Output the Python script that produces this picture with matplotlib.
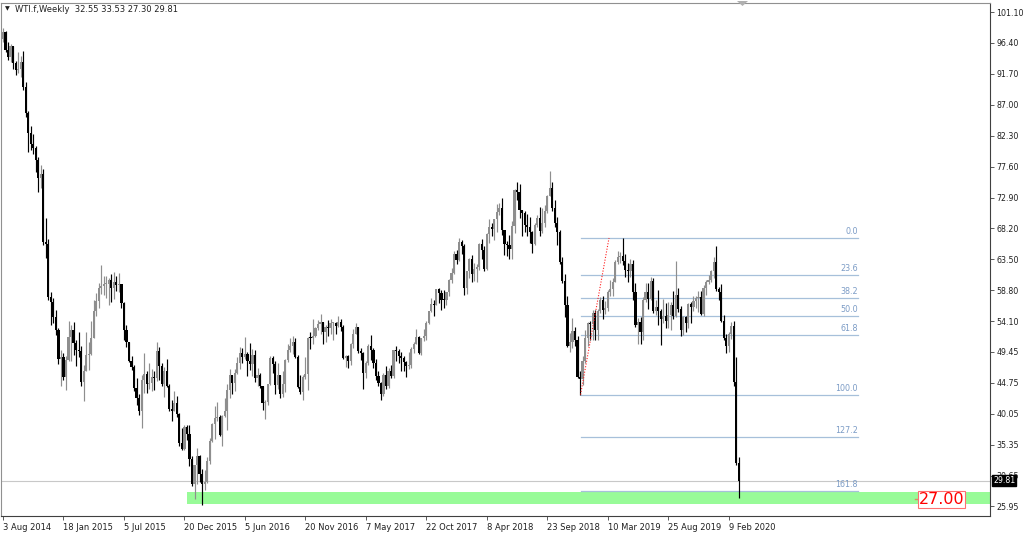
import matplotlib
matplotlib.use("Agg")
import matplotlib.pyplot as plt
from matplotlib.patches import Polygon

# ---------------- data (weekly O, H, L, C) ----------------
bars_2014 = [
    (97.0, 98.7, 96.6, 98.0), (98.0, 98.2, 95.0, 95.4), (95.4, 96.5, 93.8, 94.3), (94.3, 96.2, 93.5, 95.9),
    (95.9, 96.0, 92.5, 93.3), (93.3, 93.6, 91.5, 92.3), (92.3, 95.0, 91.9, 92.4), (92.4, 94.4, 91.2, 93.5),
    (93.5, 95.2, 89.2, 89.7), (89.7, 90.5, 85.1, 85.8), (85.8, 86.0, 79.8, 82.7), (82.7, 83.8, 80.1, 81.0),
    (81.0, 82.5, 79.5, 80.5), (80.5, 80.8, 76.8, 78.6), (78.6, 79.0, 73.8, 75.8), (75.8, 77.8, 74.3, 76.5),
    (76.5, 77.2, 65.7, 66.2), (66.2, 69.8, 63.7, 65.8), (65.8, 66.6, 57.3, 57.8), (57.8, 58.5, 53.6, 57.1),
    (57.1, 57.6, 53.8, 54.7), (54.7, 55.8, 52.0, 52.7),
]
bars_2015 = [
    (52.7, 53.1, 47.6, 48.4), (48.4, 49.8, 44.2, 48.7), (48.7, 49.2, 45.2, 45.6), (45.6, 48.8, 43.6, 48.2),
    (48.2, 54.2, 48.0, 51.7), (51.7, 53.5, 48.0, 52.8), (52.8, 54.0, 48.9, 50.8), (50.8, 51.3, 47.3, 49.8),
    (49.8, 52.5, 48.6, 49.6), (49.6, 50.4, 44.3, 44.8), (44.8, 47.4, 42.0, 46.6), (46.6, 52.5, 46.5, 48.9),
    (48.9, 51.0, 46.7, 49.1), (49.1, 54.2, 48.9, 51.6), (51.6, 57.4, 51.6, 55.7), (55.7, 58.4, 54.9, 57.2),
    (57.2, 59.9, 56.1, 59.2), (59.2, 62.6, 58.3, 59.4), (59.4, 61.0, 58.1, 59.7), (59.7, 61.0, 57.6, 59.8),
    (59.8, 60.6, 56.5, 60.3), (60.3, 61.3, 57.1, 59.1), (59.1, 61.6, 57.5, 60.0), (60.0, 61.0, 58.7, 59.6),
    (59.6, 61.5, 58.6, 59.7), (59.7, 59.7, 56.1, 56.9), (56.9, 57.0, 51.3, 52.7), (52.7, 53.5, 50.2, 50.9),
    (50.9, 51.0, 47.9, 48.1), (48.1, 48.8, 46.7, 47.1), (47.1, 47.4, 43.5, 43.9), (43.9, 45.5, 41.4, 42.5),
    (42.5, 43.0, 39.9, 40.5), (40.5, 45.9, 37.8, 45.2), (45.2, 49.3, 43.2, 46.1), (46.1, 46.5, 43.2, 44.6),
    (44.6, 47.7, 43.8, 44.7), (44.7, 46.8, 43.5, 45.7), (45.7, 46.5, 43.7, 45.5), (45.5, 50.9, 45.0, 49.6),
    (49.6, 50.2, 45.2, 47.3), (47.3, 47.8, 44.2, 44.6), (44.6, 47.1, 42.6, 46.6), (46.6, 48.4, 44.1, 44.3),
    (44.3, 44.6, 40.5, 40.7), (40.7, 42.2, 38.9, 40.4), (40.4, 43.5, 40.4, 41.7), (41.7, 42.8, 39.6, 40.0),
    (40.0, 40.1, 35.1, 35.6), (35.6, 37.9, 34.5, 34.7), (34.7, 38.3, 34.6, 38.1), (38.1, 38.3, 36.0, 37.0),
]
bars_2016 = [
    (37.0, 38.4, 32.1, 33.2), (33.2, 33.6, 29.1, 29.4), (29.4, 32.3, 27.1, 32.2), (32.2, 34.8, 29.3, 33.6),
    (33.6, 33.8, 29.6, 30.9), (30.9, 31.7, 26.1, 29.4), (29.4, 31.5, 28.5, 29.6), (29.6, 33.5, 29.5, 32.8),
    (32.8, 36.3, 32.4, 35.9), (35.9, 38.6, 35.8, 38.5), (38.5, 41.2, 36.2, 39.4), (39.4, 41.9, 38.9, 39.5),
    (39.5, 39.8, 36.6, 36.8), (36.8, 39.9, 35.2, 39.7), (39.7, 42.4, 39.6, 40.4), (40.4, 44.5, 37.6, 43.7),
    (43.7, 46.8, 42.4, 45.9), (45.9, 46.0, 43.0, 44.7), (44.7, 46.8, 43.5, 46.2), (46.2, 48.7, 46.1, 47.8),
    (47.8, 50.2, 46.8, 49.3), (49.3, 50.0, 47.8, 48.6), (48.6, 51.7, 48.3, 49.1), (49.1, 49.4, 45.8, 48.0),
    (48.0, 50.8, 46.7, 47.6), (47.6, 49.9, 45.8, 49.0), (49.0, 49.7, 44.9, 45.4), (45.4, 47.0, 44.2, 46.0),
    (46.0, 46.2, 43.9, 44.2), (44.2, 44.3, 40.6, 41.6), (41.6, 42.1, 39.2, 41.8), (41.8, 44.6, 41.3, 44.5),
    (44.5, 48.8, 44.4, 48.5), (48.5, 48.8, 46.3, 47.6), (47.6, 48.0, 43.0, 44.4), (44.4, 47.7, 43.8, 45.9),
    (45.9, 46.0, 42.5, 43.0), (43.0, 46.6, 42.6, 44.5), (44.5, 48.3, 43.3, 48.2), (48.2, 50.7, 47.9, 49.8),
    (49.8, 51.6, 49.4, 50.4), (50.4, 51.9, 49.1, 50.9), (50.9, 51.5, 48.5, 48.7), (48.7, 48.9, 44.0, 44.1),
    (44.1, 45.9, 43.0, 43.4), (43.4, 46.0, 42.2, 45.7), (45.7, 48.6, 45.3, 46.1), (46.1, 51.7, 43.6, 51.6),
    (51.6, 52.4, 49.9, 51.5), (51.5, 54.5, 50.6, 51.9), (51.9, 53.3, 51.7, 53.0), (53.0, 54.3, 52.7, 53.7),
]
bars_2017 = [
    (53.7, 55.2, 52.1, 54.0), (54.0, 54.0, 50.7, 52.4), (52.4, 53.5, 50.9, 53.2), (53.2, 54.3, 51.8, 53.1),
    (53.1, 54.5, 52.1, 53.8), (53.8, 54.0, 51.2, 53.9), (53.9, 54.0, 52.1, 53.4), (53.4, 54.9, 53.2, 54.0),
    (54.0, 54.5, 52.6, 53.3), (53.3, 53.6, 48.3, 48.5), (48.5, 49.0, 47.1, 48.8), (48.8, 49.0, 47.0, 48.0),
    (48.0, 50.8, 47.5, 50.6), (50.6, 52.9, 50.1, 52.2), (52.2, 53.8, 52.1, 53.2), (53.2, 53.3, 49.3, 49.6),
    (49.6, 50.0, 48.2, 49.3), (49.3, 49.4, 43.8, 46.2), (46.2, 48.0, 45.5, 47.8), (47.8, 50.6, 47.5, 50.3),
    (50.3, 52.0, 48.2, 49.8), (49.8, 50.0, 47.0, 47.7), (47.7, 48.4, 45.2, 45.8), (45.8, 46.6, 44.2, 44.7),
    (44.7, 44.8, 42.1, 43.0), (43.0, 46.3, 42.8, 46.0), (46.0, 47.3, 43.8, 44.2), (44.2, 47.0, 43.9, 46.5),
    (46.5, 47.4, 45.4, 45.8), (45.8, 49.8, 45.4, 49.7), (49.7, 50.4, 48.1, 49.6), (49.6, 49.9, 47.8, 48.8),
    (48.8, 49.4, 46.5, 48.5), (48.5, 48.8, 46.5, 47.9), (47.9, 48.1, 45.6, 47.3), (47.3, 49.4, 46.8, 47.5),
    (47.5, 50.2, 47.0, 49.9), (49.9, 51.0, 49.2, 50.7), (50.7, 52.9, 50.6, 51.7), (51.7, 51.8, 49.1, 49.3),
    (49.3, 51.6, 49.0, 51.5), (51.5, 52.9, 51.1, 51.8), (51.8, 54.2, 51.3, 53.9), (53.9, 55.7, 53.7, 55.6),
    (55.6, 57.7, 55.5, 56.7), (56.7, 57.3, 54.9, 56.6), (56.6, 59.0, 56.5, 59.0), (59.0, 59.1, 56.8, 58.4),
    (58.4, 58.8, 55.8, 57.4), (57.4, 58.9, 56.1, 57.3), (57.3, 58.6, 56.6, 58.5), (58.5, 60.5, 58.0, 60.4),
]
bars_2018 = [
    (60.4, 62.2, 59.9, 61.4), (61.4, 64.8, 61.3, 64.3), (64.3, 64.9, 62.8, 63.4), (63.4, 66.7, 63.3, 66.1),
    (66.1, 66.4, 64.3, 65.5), (65.5, 65.9, 58.1, 59.2), (59.2, 61.8, 58.2, 61.7), (61.7, 63.7, 60.7, 63.6),
    (63.6, 64.2, 60.1, 61.3), (61.3, 63.0, 60.2, 62.0), (62.0, 62.8, 60.1, 62.3), (62.3, 66.0, 61.9, 65.9),
    (65.9, 66.6, 63.6, 64.9), (64.9, 65.5, 61.8, 62.1), (62.1, 67.5, 61.9, 67.4), (67.4, 69.6, 66.0, 68.4),
    (68.4, 69.1, 67.0, 68.1), (68.1, 69.7, 66.5, 69.7), (69.7, 71.9, 67.7, 70.7), (70.7, 72.0, 70.2, 71.3),
    (71.3, 72.9, 67.2, 67.9), (67.9, 68.0, 64.2, 65.8), (65.8, 66.3, 64.0, 65.7), (65.7, 67.2, 63.6, 65.1),
    (65.1, 69.3, 63.6, 68.6), (68.6, 74.2, 67.5, 74.1), (74.1, 75.3, 72.5, 73.8), (73.8, 75.0, 69.8, 71.0),
    (71.0, 71.0, 67.0, 70.5), (70.5, 70.9, 67.6, 68.7), (68.7, 70.4, 67.0, 68.5), (68.5, 69.9, 66.0, 67.6),
    (67.6, 67.8, 64.4, 65.9), (65.9, 69.0, 65.7, 68.7), (68.7, 70.3, 68.5, 69.8), (69.8, 71.4, 67.1, 67.8),
    (67.8, 71.3, 67.5, 69.0), (69.0, 71.7, 68.5, 70.8), (70.8, 73.3, 70.6, 73.2), (73.2, 76.9, 73.1, 74.3),
    (74.3, 75.3, 70.8, 71.3), (71.3, 72.5, 68.5, 69.1), (69.1, 70.0, 65.7, 67.6), (67.6, 68.0, 62.8, 63.1),
    (63.1, 63.9, 59.9, 60.2), (60.2, 61.3, 54.8, 56.5), (56.5, 57.9, 50.2, 50.4), (50.4, 52.3, 49.4, 50.9),
    (50.9, 54.6, 50.1, 52.6), (52.6, 53.2, 50.4, 51.2), (51.2, 51.9, 45.4, 45.6), (45.6, 46.6, 42.95, 45.3),
]
bars_2019 = [
    (45.3, 48.8, 44.4, 48.0), (48.0, 52.7, 47.8, 51.6), (51.6, 54.0, 50.3, 53.8), (53.8, 54.1, 51.3, 53.7),
    (53.7, 55.8, 51.3, 55.3), (55.3, 55.8, 51.2, 52.7), (52.7, 55.9, 51.2, 55.6), (55.6, 57.8, 55.4, 57.3),
    (57.3, 57.9, 54.5, 55.8), (55.8, 57.2, 55.2, 56.1), (56.1, 58.9, 55.7, 58.5), (58.5, 60.4, 58.0, 59.0),
    (59.0, 60.6, 58.0, 60.1), (60.1, 63.4, 60.0, 63.1), (63.1, 64.8, 62.8, 63.9), (63.9, 64.6, 63.0, 64.0),
    (64.0, 66.75, 62.6, 63.3), (63.3, 64.3, 60.8, 61.9), (61.9, 63.0, 60.0, 61.7), (61.7, 63.6, 60.9, 62.8),
    (62.8, 63.4, 57.3, 58.6), (58.6, 59.9, 53.3, 53.5), (53.5, 54.6, 50.6, 54.0), (54.0, 54.8, 50.7, 52.5),
    (52.5, 57.8, 51.3, 57.4), (57.4, 59.9, 57.1, 58.5), (58.5, 59.9, 55.9, 57.5), (57.5, 60.9, 57.3, 60.2),
    (60.2, 60.7, 55.3, 55.6), (55.6, 57.4, 55.1, 56.2), (56.2, 58.8, 53.6, 55.7), (55.7, 55.9, 50.5, 54.5),
    (54.5, 57.5, 53.9, 54.9), (54.9, 56.9, 53.0, 54.2), (54.2, 57.0, 53.0, 55.1), (55.1, 57.1, 52.7, 56.5),
    (56.5, 58.7, 54.5, 54.9), (54.9, 63.3, 54.7, 58.1), (58.1, 59.1, 55.5, 55.9), (55.9, 56.4, 51.9, 52.8),
    (52.8, 54.9, 52.0, 54.7), (54.7, 54.9, 52.4, 53.8), (53.8, 56.9, 53.0, 56.7), (56.7, 57.0, 53.8, 56.2),
    (56.2, 57.9, 55.7, 57.2), (57.2, 57.9, 56.1, 57.7), (57.7, 58.7, 55.5, 57.8), (57.8, 58.7, 55.0, 55.2),
    (55.2, 59.6, 54.9, 59.2), (59.2, 60.3, 58.1, 60.1), (60.1, 61.2, 59.7, 60.4), (60.4, 61.9, 60.1, 61.7),
]
bars_2020 = [
    (61.7, 63.8, 60.6, 63.1), (63.1, 65.6, 58.7, 59.0), (59.0, 59.3, 57.4, 58.5), (58.5, 59.7, 54.0, 54.2),
    (54.2, 55.0, 51.3, 51.6), (51.6, 52.1, 49.3, 50.3), (50.3, 52.5, 49.4, 52.1), (52.1, 54.0, 51.4, 53.4),
    (53.4, 54.1, 44.2, 44.8), (44.8, 48.7, 32.2, 32.6), (32.55, 33.53, 27.30, 29.81),
]

date_labels = ["3 Aug 2014", "18 Jan 2015", "5 Jul 2015", "20 Dec 2015", "5 Jun 2016",
               "20 Nov 2016", "7 May 2017", "22 Oct 2017", "8 Apr 2018", "23 Sep 2018",
               "10 Mar 2019", "25 Aug 2019", "9 Feb 2020"]
price_ticks = [101.10, 96.40, 91.70, 87.00, 82.30, 77.60, 72.90, 68.20, 63.50,
               58.80, 54.10, 49.45, 44.75, 40.05, 35.35, 30.65, 25.95]

fib_high = 66.75
fib_low = 42.95
fib_levels = [0.0, 23.6, 38.2, 50.0, 61.8, 100.0, 127.2, 161.8]
zone_low, zone_high = 26.33, 28.15
zone_label = "27.00"
last_price = 29.81
title = "WTI.f,Weekly  32.55 33.53 27.30 29.81"

# ---------------- plot ----------------
bars = bars_2014 + bars_2015 + bars_2016 + bars_2017 + bars_2018 + bars_2019 + bars_2020
W, H = 1024, 534
fig = plt.figure(figsize=(W / 100, H / 100), dpi=100)
fig.patch.set_facecolor("white")
ax = fig.add_axes([1 / W, 18 / H, 989 / W, 513 / H])
ax.set_facecolor("white")

x_min, x_max = -0.8, 391.7
y_min, y_max = 24.5, 102.47
ax.set_xlim(x_min, x_max)
ax.set_ylim(y_min, y_max)

bull_c = "#8e8e8e"
bear_c = "#000000"
for i, (o, h, l, c) in enumerate(bars):
    col = bull_c if c >= o else bear_c
    ax.vlines(i, l, h, color=col, lw=0.85, zorder=3)
    body = max(abs(c - o), 0.15)
    ax.bar(i, body, bottom=min(o, c), width=0.86, color=col, linewidth=0, zorder=3)

# support zone
ax.fill_between([73, x_max], zone_low, zone_high, color="#98fb98", linewidth=0, zorder=1)
# current price line
ax.axhline(last_price, color="#c8c8c8", lw=0.8, zorder=2)

# fibonacci
fib_start, fib_end = 229.2, 339.2
for lv in fib_levels:
    p = fib_high - (fib_high - fib_low) * lv / 100.0
    ax.plot([fib_start, fib_end], [p, p], color="#a7c0da", lw=0.9, zorder=2)
    ax.text(fib_end, p + 0.3, f"{lv:.1f}", color="#7c9cc6", fontsize=5.8,
            ha="right", va="bottom", zorder=4)
ax.plot([229.2, 240.5], [fib_low, fib_high], color="#ff2020", lw=0.8, ls=(0, (1, 1.5)), zorder=4)

# 27.00 label
ax.plot([362.0, 364.2], [27.1, 27.1], color="#d88a6a", lw=1.0, zorder=5)
ax.text(372.4, 27.02, zone_label, color="#ff0000", fontsize=11.5, ha="center", va="center",
        zorder=6, bbox=dict(boxstyle="square,pad=0.05", facecolor="white",
                            edgecolor="#ff7070", linewidth=0.8))

# axes styling
for s in ["left", "top"]:
    ax.spines[s].set_color("#909090")
for s in ["right", "bottom"]:
    ax.spines[s].set_color("#404040")
ax.yaxis.tick_right()
ax.set_yticks(price_ticks)
ax.set_yticklabels([f"{v:.2f}" for v in price_ticks])
ax.tick_params(axis="y", direction="out", length=3, width=0.6, pad=1.5,
               labelsize=5.7, labelcolor="#202020", color="#404040")
xt = [24 * k for k in range(len(date_labels))]
ax.set_xticks(xt)
ax.set_xticklabels(date_labels, ha="left")
ax.tick_params(axis="x", direction="out", length=3, width=0.6, pad=2,
               labelsize=6, labelcolor="#202020", color="#404040")

# last price box
fig.text(993 / W, 1 - 480.5 / H, f"{last_price:.2f}", color="white", fontsize=5.7,
         ha="left", va="center", zorder=10,
         bbox=dict(boxstyle="square,pad=0.15", facecolor="black", edgecolor="black"))

# header
fig.text(5 / W, 1 - 9 / H, "\u25bc", fontsize=4.5, color="#202020", ha="left", va="center")
fig.text(15 / W, 1 - 9 / H, title, fontsize=6, color="#202020", ha="left", va="center")

# chart shift marker
tri = Polygon([[737 / W, 1 - 1 / H], [748 / W, 1 - 1 / H], [742.5 / W, 1 - 6 / H]],
              closed=True, transform=fig.transFigure, facecolor="#b0b0b0", edgecolor="none")
fig.patches.append(tri)

fig.savefig("out.png", dpi=100, facecolor="white")
